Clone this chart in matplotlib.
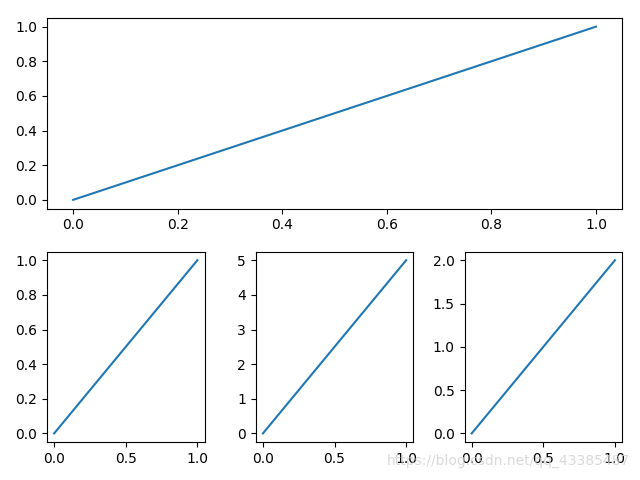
import matplotlib
matplotlib.use('Agg')
import matplotlib.pyplot as plt

# line data for each subplot
x = [0, 1]
y_top = [0, 1]
y_b1 = [0, 1]
y_b2 = [0, 5]
y_b3 = [0, 2]

fig = plt.figure(figsize=(6.4, 4.8), dpi=100)

ax1 = plt.subplot2grid((2, 3), (0, 0), colspan=3)
ax2 = plt.subplot2grid((2, 3), (1, 0))
ax3 = plt.subplot2grid((2, 3), (1, 1))
ax4 = plt.subplot2grid((2, 3), (1, 2))

ax1.plot(x, y_top)
ax2.plot(x, y_b1)
ax3.plot(x, y_b2)
ax4.plot(x, y_b3)

fig.subplots_adjust(left=0.0734, right=0.972, bottom=0.079, top=0.9625,
                    hspace=0.226, wspace=0.325)

fig.text(0.984, 0.04, 'https://blog.csdn.net/qq_43385487', ha='right', va='center',
         fontsize=10, color='#d0d0d0', alpha=0.8)

fig.savefig('out.png', dpi=100)
